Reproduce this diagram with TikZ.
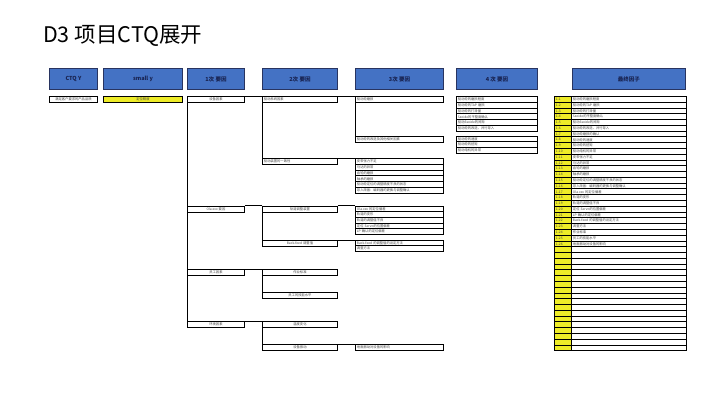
\documentclass[tikz,border=0pt]{standalone}
\usepackage{fontspec}
\setmainfont{Noto Sans CJK SC}
\definecolor{hdrblue}{RGB}{68,114,196}
\definecolor{hdrline}{RGB}{40,52,96}
\definecolor{hdrtext}{RGB}{24,34,80}
\definecolor{cellyel}{RGB}{238,236,40}
\definecolor{celltext}{RGB}{70,70,70}
\tikzset{
  hdr/.style={draw=hdrline, fill=hdrblue, line width=0.9pt, anchor=north west, inner sep=0pt,
    minimum height=21pt, font=\fontsize{5.5}{6}\selectfont\bfseries, text=hdrtext},
  cell/.style={draw=black, line width=0.9pt, fill=white, inner xsep=1.5pt, inner ysep=0pt,
    font=\fontsize{3.3}{4}\selectfont, text=celltext},
  yel/.style={cell, fill=cellyel},
  conn/.style={draw=black, line width=0.9pt}
}
\newcommand\cell[8][cell]{% style, name, x, y, w, h, align, text
  \pgfmathsetmacro\tw{#5-3}
  \node[#1, anchor=north west, minimum width=#5pt, minimum height=#6pt, text width=\tw pt, align=#7] (#2) at (#3,#4) {#8};
}
\begin{document}
\begin{tikzpicture}[x=1pt,y=-1pt]
\useasboundingbox[fill=white] (0,0) rectangle (720,405);
% title
\node[anchor=base west, inner sep=0pt, font=\fontsize{21.5}{25}\selectfont] (title) at (43,42) {D3 项目CTQ展开};
% headers
\node[hdr, minimum width=48pt] (h0) at (49,68) {CTQ Y};
\node[hdr, minimum width=79pt] (h1) at (103,68) {small y};
\node[hdr, minimum width=57pt] (h2) at (187,68) {1次 要因};
\node[hdr, minimum width=75pt] (h3) at (262,68) {2次 要因};
\node[hdr, minimum width=88pt] (h4) at (355,68) {3次 要因};
\node[hdr, minimum width=81pt] (h5) at (456,68) {4 次 要因};
\node[hdr, minimum width=113pt] (h6) at (572,68) {最终因子};
% CTQ and small y
\cell{ctq}{49}{96}{48}{5.8}{center}{满足客户要求的产品品质}
\cell[yel]{sy}{103}{96}{79}{5.8}{center}{定位精度}
% 1st level
\cell{pA}{187}{96}{57}{5.8}{center}{设备因素}
\cell{pB}{187}{205.7}{57}{5.8}{center}{Ola.xxx 要因}
\cell{pC}{187}{269.3}{57}{5.4}{center}{员工因素}
\cell{pD}{187}{321}{57}{5.6}{center}{环境因素}
% 2nd level
\cell{sa}{262}{96}{75}{5.8}{left}{驱动系统因素}
\cell{sb}{262}{158}{75}{5.8}{left}{驱动装置的一致性}
\cell{sc}{262}{205.7}{75}{5.8}{center}{轨道调整装置}
\cell{sd}{262}{240}{75}{5.8}{center}{Back-feed 调整值}
\cell{se}{262}{269.3}{75}{5.4}{center}{作业标准}
\cell{sf}{262}{292.3}{75}{5.4}{center}{员工的技能水平}
\cell{sg}{262}{321}{75}{5.6}{center}{温度变化}
\cell{sh}{262}{344.3}{75}{5.8}{center}{设备振动}
% 3rd level
\cell{ta}{355}{96}{88}{5.8}{left}{驱动轮磨损}
\cell{tb}{355}{135.7}{88}{5.9}{left}{驱动轮的改造及其他相关因素}
\foreach \t [count=\i from 0] in {皮带张力不足,马达的异常,齿轮的磨损,轴承的磨损,驱动轮定位的调整精度不良的状态,导入改善：编码器的更换与调整确认}{
  \cell{tc\i}{355}{158+\i*5.83}{88}{5.83}{left}{\t}
}
\foreach \t [count=\i from 0] in {Ola.xxx 的定位偏差,轨道的变形,轨道的调整值不良,定位 Servo的位置偏差,LP 确认的定位偏差}{
  \cell{td\i}{355}{205.7+\i*5.66}{88}{5.66}{left}{\t}
}
\foreach \t [count=\i from 0] in {Back-feed 的调整值的设定方法,调整方法}{
  \cell{te\i}{355}{240+\i*5.35}{88}{5.35}{left}{\t}
}
\cell{tf}{355}{344.3}{88}{5.8}{left}{地面振动对设备的影响}
% 4th level
\foreach \t [count=\i from 0] in {驱动轮的磨损程度,驱动轮的TAP 磨损,驱动轮的打滑量,Ssoide的平整度确认,驱动Ssoide的间隙,驱动轮的改造、并行导入}{
  \cell{fa\i}{456}{96+\i*5.8}{81}{5.8}{left}{\t}
}
\foreach \t [count=\i from 0] in {驱动轮的速度,驱动轮的扭矩,驱动电机的异常}{
  \cell{fb\i}{456}{135.7+\i*5.7}{81}{5.7}{left}{\t}
}
% final factors
\foreach \t [count=\i] in {驱动轮的磨损程度,驱动轮的TAP 磨损,驱动轮的打滑量,Ssoide的平整度确认,驱动Ssoide的间隙,驱动轮的改造、并行导入,驱动轮磨损的确认,驱动轮的速度,驱动轮的扭矩,驱动电机的异常,皮带张力不足,马达的异常,齿轮的磨损,轴承的磨损,驱动轮定位的调整精度不良的状态,导入改善：编码器的更换与调整确认,Ola.xxx 的定位偏差,轨道的变形,轨道的调整值不良,定位 Servo的位置偏差,LP 确认的定位偏差,Back-feed 的调整值的设定方法,调整方法,作业标准,员工的技能水平,地面振动对设备的影响}{
  \pgfmathsetmacro\yy{96+(\i-1)*5.78}
  \cell[yel]{fy\i}{554}{\yy}{17}{5.78}{left}{1-\i}
  \cell{ft\i}{571}{\yy}{115}{5.78}{left}{\t}
}
\foreach \i in {27,...,44}{
  \pgfmathsetmacro\yy{96+(\i-1)*5.78}
  \cell[yel]{fy\i}{554}{\yy}{17}{5.78}{left}{}
  \cell{ft\i}{571}{\yy}{115}{5.78}{left}{}
}
% connectors
\draw[conn] (pA.north west) -- (pD.south west);
\draw[conn] (pA.north east) -- (sa.north west);
\draw[conn] (pB.north east) -- (sc.north west);
\draw[conn] (pC.north east) -- (se.north west);
\draw[conn] (pD.north east) -- (sg.north west);
\draw[conn] (sa.north west) -- (sb.south west);
\draw[conn] (sc.north west) -- (sd.south west);
\draw[conn] (se.north west) -- (sf.south west);
\draw[conn] (sg.north west) -- (sh.south west);
\draw[conn] (sa.north east) -- (ta.north west);
\draw[conn] (ta.north west) -- (tb.south west);
\draw[conn] (sb.north east) -- (tc0.north west);
\draw[conn] (sc.north east) -- (td0.north west);
\draw[conn] (sd.north east) -- (te0.north west);
\draw[conn] (sh.north east) -- (tf.north west);
\end{tikzpicture}
\end{document}
